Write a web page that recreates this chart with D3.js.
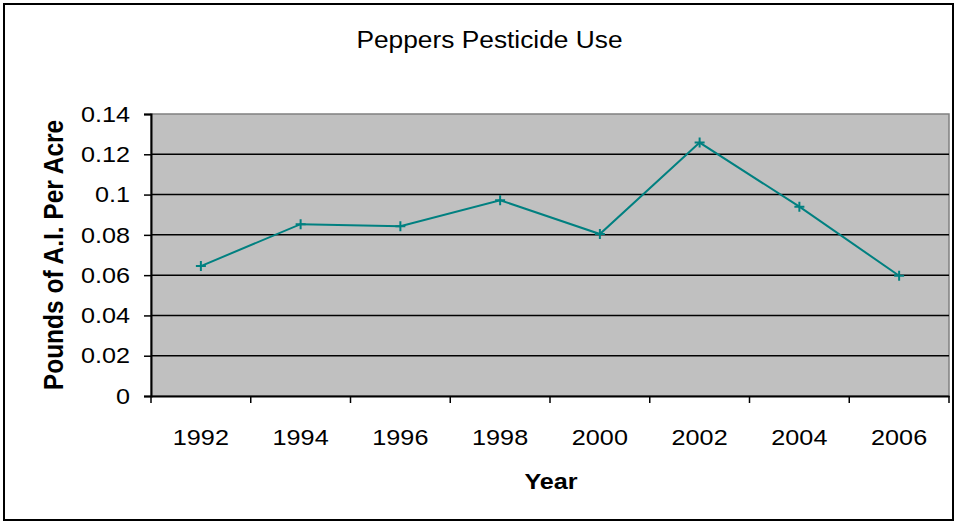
<!DOCTYPE html>
<html><head><meta charset="utf-8">
<script src="https://cdn.jsdelivr.net/npm/d3@7/dist/d3.min.js"></script>
<style>body{margin:0;background:#fff;}svg{display:block;font-family:"Liberation Sans",Arial,sans-serif;}</style>
</head><body>
<script>
const years = ["1992","1994","1996","1998","2000","2002","2004","2006"];
const values = [0.0645, 0.0853, 0.0843, 0.0972, 0.0804, 0.1258, 0.0940, 0.0597];
const yTicks = [0, 0.02, 0.04, 0.06, 0.08, 0.1, 0.12, 0.14];
const title = "Peppers Pesticide Use";
const xTitle = "Year";
const yTitle = "Pounds of A.I. Per Acre";

const W = 956, H = 523, SX = 1.12;
const m = {left:151, right:7, top:114, bottom:127};
const svg = d3.select("body").append("svg").attr("width", W).attr("height", H);

svg.append("rect").attr("x",4).attr("y",4).attr("width",W-7).attr("height",H-7)
  .attr("fill","#fff").attr("stroke","#000").attr("stroke-width",2);

const x = d3.scaleBand().domain(years).range([m.left, W-m.right]);
const y = d3.scaleLinear().domain([0,0.14]).range([H-m.bottom, m.top]);

svg.append("rect").attr("x",m.left).attr("y",m.top)
  .attr("width",W-m.right-m.left).attr("height",H-m.bottom-m.top)
  .attr("fill","#C0C0C0").attr("stroke","#808080").attr("stroke-width",1.5);

svg.append("g").selectAll("line").data(yTicks.filter(d=>d>0 && d<0.14)).join("line")
  .attr("x1",m.left).attr("x2",W-m.right)
  .attr("y1",d=>y(d)).attr("y2",d=>y(d))
  .attr("stroke","#000").attr("stroke-width",1.5);

const ya = svg.append("g").attr("transform",`translate(${m.left},0)`)
  .call(d3.axisLeft(y).tickValues(yTicks).tickFormat(d=>String(d)).tickSize(7).tickPadding(14));
ya.select(".domain").attr("stroke","#000").attr("stroke-width",2);
ya.selectAll(".tick line").attr("stroke","#000").attr("stroke-width",1.5);
ya.selectAll("text").attr("font-size",22.5).attr("fill","#000")
  .attr("font-family","'Liberation Sans',Arial,sans-serif")
  .attr("x",-21/SX).attr("transform",`scale(${SX},1)`);

const xa = svg.append("g").attr("transform",`translate(0,${H-m.bottom})`)
  .call(d3.axisBottom(x).tickSize(0).tickPadding(33));
xa.select(".domain").attr("stroke","#000").attr("stroke-width",2);
xa.selectAll(".tick").each(function(){
  const t = d3.select(this).select("text");
  t.attr("font-size",22.5).attr("fill","#000")
   .attr("font-family","'Liberation Sans',Arial,sans-serif")
   .attr("transform",`scale(${SX},1)`);
});
const bounds = years.map(d=>x(d)).concat([x(years[years.length-1])+x.bandwidth()]);
svg.append("g").selectAll("line").data(bounds).join("line")
  .attr("x1",d=>d).attr("x2",d=>d).attr("y1",H-m.bottom).attr("y2",H-m.bottom+7)
  .attr("stroke","#000").attr("stroke-width",1.5);

const cx = d=>x(d)+x.bandwidth()/2;
svg.append("path").datum(values)
  .attr("d", d3.line().x((d,i)=>cx(years[i])).y(d=>y(d)))
  .attr("fill","none").attr("stroke","#008080").attr("stroke-width",2);
svg.append("g").selectAll("path").data(values).join("path")
  .attr("d",(d,i)=>{const px=cx(years[i]), py=y(d); return `M${px-5},${py}H${px+5}M${px},${py-5}V${py+5}`;})
  .attr("stroke","#008080").attr("stroke-width",2).attr("fill","none");

svg.append("text").attr("transform",`translate(489.5,47.7) scale(${SX},1)`).attr("text-anchor","middle")
  .attr("font-size",23.5).text(title);
svg.append("text").attr("transform",`translate(551,489.3) scale(${SX},1)`).attr("text-anchor","middle")
  .attr("font-size",22.5).attr("font-weight","bold").text(xTitle);
svg.append("text").attr("transform",`translate(63,${(m.top+H-m.bottom)/2}) scale(${SX},1) rotate(-90)`)
  .attr("text-anchor","middle").attr("font-size",24.5).attr("font-weight","bold").text(yTitle);
</script>
</body></html>
